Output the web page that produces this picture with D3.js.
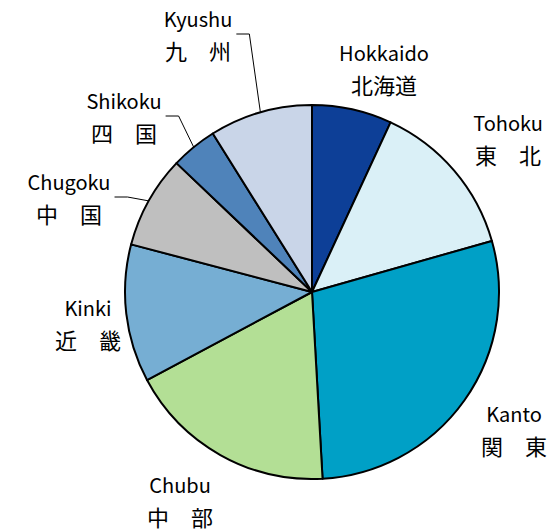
<!DOCTYPE html>
<html>
<head>
<meta charset="utf-8">
<script src="https://cdn.jsdelivr.net/npm/d3@7"></script>
<style>
  body { margin: 0; background: #fff; }
  text { font-family: "Noto Sans CJK JP", "DejaVu Sans", sans-serif; fill: #000; }
</style>
</head>
<body>
<script>
// regions, clockwise from 12 o'clock
const regionsEn = ["Hokkaido", "Tohoku", "Kanto", "Chubu", "Kinki", "Chugoku", "Shikoku", "Kyushu"];
const regionsJa = ["北海道", "東　北", "関　東", "中　部", "近　畿", "中　国", "四　国", "九　州"];
const shares = [6.9, 13.7, 28.5, 18.1, 11.9, 8.0, 4.0, 8.9];
const colors = ["#0d3f97", "#daf0f7", "#00a0c6", "#b3df95", "#76aed3", "#bfbfbf", "#4f83ba", "#c9d5e8"];

// label placement (text centre x, first baseline y) and which get leader lines
const labelXY = [[384, 61], [508, 131], [514, 422], [180, 493], [88, 316], [69, 190], [124, 109], [198, 27]];
const leader = [false, false, false, false, false, true, true, true];

const width = 549;
const height = 531;
const cx = 312, cy = 292, r = 187;

const svg = d3.select("body")
    .append("svg")
    .attr("width", width)
    .attr("height", height);

const pie = d3.pie().sort(null).value(d => d);
const arcs = pie(shares);

const arc = d3.arc().innerRadius(0).outerRadius(r);

const g = svg.append("g").attr("transform", `translate(${cx},${cy})`);

g.selectAll("path")
    .data(arcs)
    .join("path")
    .attr("d", arc)
    .attr("fill", (d, i) => colors[i])
    .attr("stroke", "#000")
    .attr("stroke-width", 2)
    .attr("stroke-linejoin", "round");

// leader lines: from end of label text to middle of slice edge
arcs.forEach((d, i) => {
    if (!leader[i]) return;
    const mid = (d.startAngle + d.endAngle) / 2;
    const ex = cx + r * Math.sin(mid);
    const ey = cy - r * Math.cos(mid);
    const t = svg.append("text").attr("font-size", 20).text(regionsEn[i])
        .attr("x", -1000);
    const w = t.node().getComputedTextLength();
    t.remove();
    const sx = labelXY[i][0] + w / 2 + 4;
    const sy = labelXY[i][1] + 7;
    svg.append("polyline")
        .attr("points", [[sx, sy], [sx + 13, sy], [ex, ey]].map(p => p.join(",")).join(" "))
        .attr("fill", "none")
        .attr("stroke", "#000")
        .attr("stroke-width", 1);
});

const labels = svg.selectAll("g.lab")
    .data(arcs)
    .join("g")
    .attr("class", "lab")
    .attr("transform", (d, i) => `translate(${labelXY[i][0]},${labelXY[i][1]})`);

labels.append("text")
    .attr("text-anchor", "middle")
    .attr("font-size", 20)
    .text((d, i) => regionsEn[i]);

labels.append("text")
    .attr("text-anchor", "middle")
    .attr("y", 33)
    .attr("font-size", 22)
    .text((d, i) => regionsJa[i]);
</script>
</body>
</html>
